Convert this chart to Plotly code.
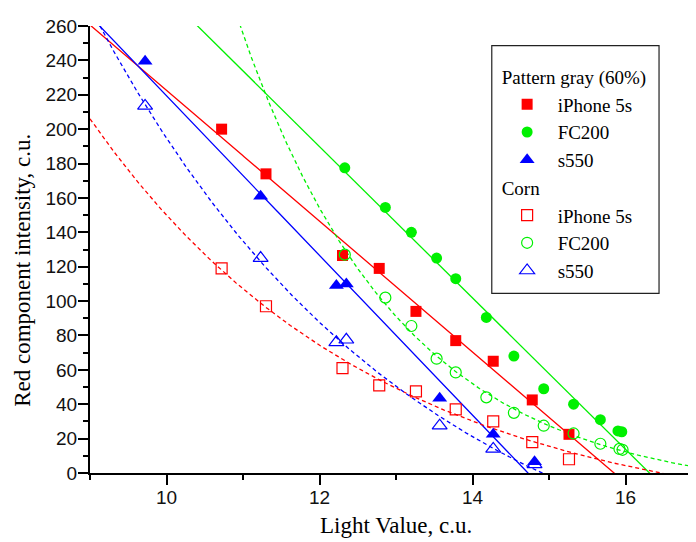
import numpy as np
import plotly.graph_objects as go

# ---- data ----
red_fill_x = [10.72, 11.30, 12.30, 12.78, 13.26, 13.78, 14.27, 14.78, 15.26]
red_fill_y = [200, 174, 126.5, 119, 94, 77, 65, 42.5, 22.5]
green_fill_x = [12.33, 12.86, 13.20, 13.53, 13.78, 14.18, 14.54, 14.93, 15.32, 15.67, 15.90, 15.95]
green_fill_y = [177.5, 154.5, 140, 125, 113, 90.5, 68, 49, 40, 31, 24.5, 24]
blue_fill_x = [9.72, 11.23, 12.22, 12.35, 13.57, 14.27, 14.81]
blue_fill_y = [239.5, 161, 109, 110, 43.5, 22.5, 6.5]

red_open_x = [10.72, 11.30, 12.30, 12.78, 13.26, 13.78, 14.27, 14.78, 15.26]
red_open_y = [119, 97, 61, 51, 47.5, 37, 30, 18, 8]
green_open_x = [12.33, 12.86, 13.20, 13.53, 13.78, 14.18, 14.54, 14.93, 15.32, 15.67, 15.92, 15.96]
green_open_y = [127, 102, 85.5, 66.5, 58.5, 44, 35, 27.5, 23, 17, 14, 13.5]
blue_open_x = [9.72, 11.23, 12.22, 12.35, 13.57, 14.27, 14.81]
blue_open_y = [213.5, 125, 76, 77.5, 27.5, 14, 5]

device_names = ["iPhone 5s", "FC200", "s550"]
group_titles = ["Pattern gray (60%)", "Corn"]
x_ticks = [10, 12, 14, 16]
x_range = [9, 16.92]
y_range = [0, 260]

RED, GREEN, BLUE = "#ff0000", "#00f000", "#0000ff"

xs = np.linspace(x_range[0], x_range[1], 600)


def lin_fit(x, y):
    p = np.polyfit(np.asarray(x, float), np.asarray(y, float), 1)
    return np.polyval(p, xs)


def exp_fit(x, y):
    x = np.asarray(x, float) - 9.0
    y = np.asarray(y, float)
    best = None
    for k in np.linspace(0.02, 3.0, 3000):
        M = np.column_stack([np.ones_like(x), np.exp(-k * x)])
        coef, *_ = np.linalg.lstsq(M, y, rcond=None)
        sse = np.sum((M @ coef - y) ** 2)
        if best is None or sse < best[0]:
            best = (sse, k, coef)
    _, k, (c, a) = best
    return c + a * np.exp(-k * (xs - 9.0))


fig = go.Figure()

# fit lines
for (fx, fy, col) in [(red_fill_x, red_fill_y, RED), (green_fill_x, green_fill_y, GREEN),
                      (blue_fill_x, blue_fill_y, BLUE)]:
    fig.add_trace(go.Scatter(x=xs, y=lin_fit(fx, fy), mode="lines",
                             line=dict(color=col, width=1.3), showlegend=False, hoverinfo="skip"))
for (fx, fy, col) in [(red_open_x, red_open_y, RED), (green_open_x, green_open_y, GREEN),
                      (blue_open_x, blue_open_y, BLUE)]:
    fig.add_trace(go.Scatter(x=xs, y=exp_fit(fx, fy), mode="lines",
                             line=dict(color=col, width=1.3, dash="4px,3px"), showlegend=False,
                             hoverinfo="skip"))

legend_font = dict(family="Liberation Serif", size=19, color="black")

fill_sets = [(red_fill_x, red_fill_y, RED, "square", 11),
             (green_fill_x, green_fill_y, GREEN, "circle", 11),
             (blue_fill_x, blue_fill_y, BLUE, "triangle-up", 13)]
for i, (fx, fy, col, sym, sz) in enumerate(fill_sets):
    fig.add_trace(go.Scatter(x=fx, y=fy, mode="markers", name=device_names[i],
                             marker=dict(color=col, symbol=sym, size=sz, line=dict(width=0)),
                             legendgroup="g1", legendgrouptitle=dict(text=group_titles[0], font=legend_font)))

open_sets = [(red_open_x, red_open_y, RED, "square-open", 11),
             (green_open_x, green_open_y, GREEN, "circle-open", 11),
             (blue_open_x, blue_open_y, BLUE, "triangle-up-open", 13)]
for i, (fx, fy, col, sym, sz) in enumerate(open_sets):
    fig.add_trace(go.Scatter(x=fx, y=fy, mode="markers", name=device_names[i],
                             marker=dict(color=col, symbol=sym, size=sz, line=dict(width=1.2, color=col)),
                             legendgroup="g2", legendgrouptitle=dict(text=group_titles[1], font=legend_font)))

axis_common = dict(showline=True, linecolor="black", linewidth=2, ticks="outside", ticklen=10,
                   tickwidth=2, tickcolor="black", showgrid=False, zeroline=False,
                   tickfont=dict(family="Liberation Sans", size=19, color="#111111"))

fig.update_xaxes(range=x_range, tickvals=x_ticks, ticklabelstandoff=-4,
                 minor=dict(ticks="outside", ticklen=5, tickwidth=2, tickcolor="black", dtick=1, tick0=9),
                 **axis_common)
fig.update_yaxes(range=y_range, dtick=20, ticklabelstandoff=-3,
                 minor=dict(ticks="outside", ticklen=5, tickwidth=2, tickcolor="black", dtick=10),
                 **axis_common)

# legend frame
fig.add_shape(type="rect", xref="paper", yref="paper", x0=0.663, x1=0.939, y0=0.402, y1=0.956,
              line=dict(color="#222222", width=1.2), fillcolor="white", layer="above")

fig.add_annotation(text="Red component intensity, c.u.", xref="paper", yref="paper",
                   x=-0.1106, y=0.4544, textangle=-90, showarrow=False,
                   font=dict(family="Liberation Serif", size=23, color="black"),
                   xanchor="center", yanchor="middle")
fig.add_annotation(text="Light Value, c.u.", xref="paper", yref="paper",
                   x=0.505, y=-0.118, showarrow=False,
                   font=dict(family="Liberation Serif", size=23, color="black"),
                   xanchor="center", yanchor="middle")

# page adds an 8px body margin: compensate so the plot area lands at x 90..696, y 23..473
fig.update_layout(
    width=696, height=542,
    margin=dict(l=82, r=8, t=15, b=77),
    paper_bgcolor="white", plot_bgcolor="white",
    legend=dict(x=0.671, y=0.929, xanchor="left", yanchor="top", bgcolor="rgba(0,0,0,0)",
                borderwidth=0, font=legend_font, traceorder="grouped", tracegroupgap=0,
                itemwidth=51),
    showlegend=True,
)

fig.write_html("out.html")
